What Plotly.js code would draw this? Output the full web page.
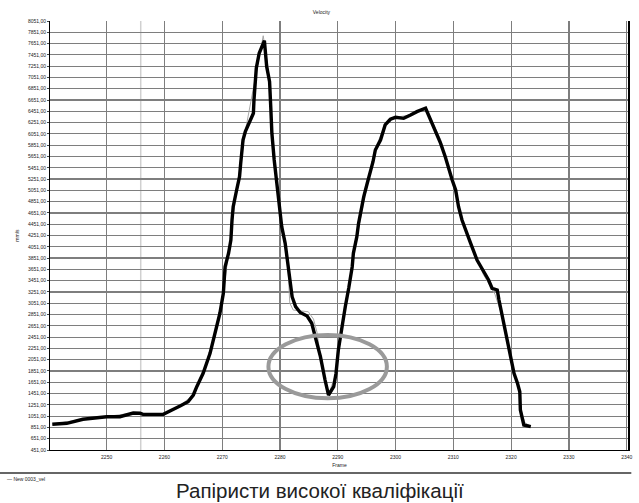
<!DOCTYPE html>
<html>
<head>
<meta charset="utf-8">
<script src="https://cdn.plot.ly/plotly-3.0.1.min.js"></script>
<style>html,body{margin:0;padding:0;background:#fff;}#chart{width:639px;height:503px;}</style>
</head>
<body>
<div id="chart"></div>
<script>
// Black (thick) velocity series
const frames = [2240.6,2243.1,2245.9,2250.0,2252.3,2254.6,2255.8,2256.3,2259.8,2261.5,2262.7,2264.1,2265.0,2265.6,2266.7,2267.9,2268.8,2269.6,2270.2,2270.5,2271.1,2271.5,2271.7,2271.9,2272.5,2273.0,2273.2,2273.6,2274.0,2274.8,2275.4,2275.5,2275.7,2275.9,2276.4,2277.3,2277.7,2278.2,2278.4,2278.6,2279.0,2279.5,2280.0,2280.3,2280.9,2281.3,2281.8,2282.1,2282.7,2283.5,2284.7,2285.5,2286.1,2287.0,2287.8,2288.4,2289.3,2289.7,2290.1,2290.7,2291.3,2291.9,2292.5,2292.7,2293.3,2293.6,2293.9,2294.2,2294.5,2295.1,2295.6,2296.1,2296.5,2297.4,2298.2,2299.1,2300.0,2301.4,2302.6,2303.7,2305.2,2305.7,2306.6,2307.8,2308.6,2309.2,2309.8,2310.4,2310.9,2311.5,2312.1,2313.0,2314.1,2315.3,2316.1,2316.7,2317.6,2317.9,2318.5,2319.0,2319.6,2320.2,2320.5,2321.1,2321.5,2321.6,2322.2,2323.4];
const velocity = [906,924,995,1041,1041,1106,1101,1083,1083,1160,1230,1307,1425,1572,1810,2164,2518,2873,3227,3698,3936,4171,4526,4761,5057,5293,5530,5943,6090,6297,6416,6652,6887,7213,7479,7702,7242,6976,6533,6062,5589,5116,4703,4407,4113,3817,3404,3167,2990,2887,2825,2696,2458,2104,1691,1425,1572,1810,2223,2635,2990,3321,3698,3936,4230,4467,4644,4821,4939,5176,5353,5558,5766,5943,6209,6310,6345,6327,6386,6445,6505,6386,6179,5884,5647,5411,5234,5057,4761,4526,4348,4113,3817,3610,3463,3316,3286,3108,2813,2518,2223,1987,1810,1633,1484,1160,894,864];

// Thin grey series
const framesRaw = [2240.6,2245.9,2250.0,2254.6,2256.3,2259.8,2262.7,2265.0,2266.7,2268.8,2270.2,2271.1,2272.5,2274.0,2277.1,2278.0,2278.6,2279.5,2280.3,2281.3,2281.7,2282.3,2284.9,2285.8,2286.4,2287.0,2287.8,2288.4,2289.7,2290.7,2291.9,2293.0,2294.6,2295.6,2296.5,2298.2,2300.0,2302.6,2305.3,2307.8,2309.2,2310.9,2312.1,2314.1,2315.2,2317.2,2318.5,2319.6,2320.5,2321.5,2321.7,2322.4,2323.4];
const velocityRaw = [910,995,1045,1106,1085,1085,1235,1430,1815,2525,3230,3940,5060,6100,7790,7180,6080,5120,4410,3820,3050,2930,2900,2770,2540,2104,1691,1430,1810,2635,3321,4060,4900,5353,5800,6209,6345,6386,6505,5950,5450,4780,4360,3830,3560,3210,2813,2223,1810,1484,1160,930,874];

// Tick values
const xTicks = [2250,2260,2270,2280,2290,2300,2310,2320,2330,2340];
const yTick0 = 451, yTickStep = 200, yTop = 8051;

// Highlight ellipse around the dip (data units)
const ellipse = {x0: 2278.0, x1: 2298.5, y0: 1367, y1: 2488};
const markerFrame = 2255.9;

const tiny = {family: 'Liberation Sans, Arial, sans-serif', size: 5, color: '#222'};

const traces = [
  {x: framesRaw, y: velocityRaw, type: 'scatter', mode: 'lines',
   line: {color: '#a8a8a8', width: 1}, showlegend: false, hoverinfo: 'skip'},
  {x: frames, y: velocity, type: 'scatter', mode: 'lines', name: 'New 0003_vel',
   line: {color: '#000', width: 3.4}, showlegend: false}
];

const layout = {
  width: 639, height: 503,
  margin: {l: 50, r: 10, t: 21, b: 53, pad: 0},
  paper_bgcolor: '#fff', plot_bgcolor: '#fff',
  separators: ', ',
  showlegend: false,
  title: {text: 'Velocity', font: tiny, x: 0.503, xanchor: 'center', y: 0.976, yanchor: 'middle'},
  xaxis: {
    range: [2240.2, 2340.4], tickvals: xTicks, tickformat: 'd',
    showgrid: true, gridcolor: '#7e7e7e', gridwidth: 1.2,
    zeroline: false, showline: true, linecolor: '#000', linewidth: 1,
    ticks: '', tickfont: tiny, ticklabelstandoff: 2,
    title: {text: 'Frame', font: tiny, standoff: 4}
  },
  yaxis: {
    range: [451, 8051], tick0: yTick0, dtick: yTickStep, tickformat: '.2f',
    showgrid: true, gridcolor: '#7e7e7e', gridwidth: 1.2,
    zeroline: false, showline: true, mirror: true, linecolor: '#000', linewidth: 1,
    ticks: 'outside', ticklen: 2, tickcolor: '#444', tickfont: tiny,
    title: {text: 'mm/s', font: tiny, standoff: 8}
  },
  shapes: [
    {type: 'line', xref: 'x', yref: 'paper', x0: markerFrame, x1: markerFrame, y0: 0, y1: 1,
     line: {color: '#d0d0d0', width: 1.5}, layer: 'below'},
    {type: 'line', xref: 'x', yref: 'paper', x0: 2330, x1: 2330, y0: 0, y1: 1,
     line: {color: '#555', width: 1.5}, layer: 'below'},
    {type: 'line', xref: 'paper', yref: 'paper', x0: 1, x1: 1, y0: 0, y1: 1,
     line: {color: '#000', width: 2}},
    {type: 'circle', xref: 'x', yref: 'y', x0: ellipse.x0, x1: ellipse.x1, y0: ellipse.y0, y1: ellipse.y1,
     line: {color: '#9a9a9a', width: 4}},
    {type: 'line', xref: 'paper', yref: 'paper', x0: -0.0864, x1: 1.004, y0: -0.0536, y1: -0.0536,
     line: {color: '#333', width: 1.5}}
  ],
  annotations: [
    {text: '— New 0003_vel', xref: 'paper', yref: 'paper', x: -0.078, y: -0.056,
     xanchor: 'left', yanchor: 'top', showarrow: false, font: tiny},
    {text: 'Рапіристи високої кваліфікації', xref: 'paper', yref: 'paper', x: 0.466, y: -0.064,
     xanchor: 'center', yanchor: 'top', showarrow: false,
     font: {family: 'Liberation Sans, Arial, sans-serif', size: 20.5, color: '#222'}}
  ]
};

Plotly.newPlot('chart', traces, layout, {displayModeBar: false, staticPlot: true});
</script>
</body>
</html>
